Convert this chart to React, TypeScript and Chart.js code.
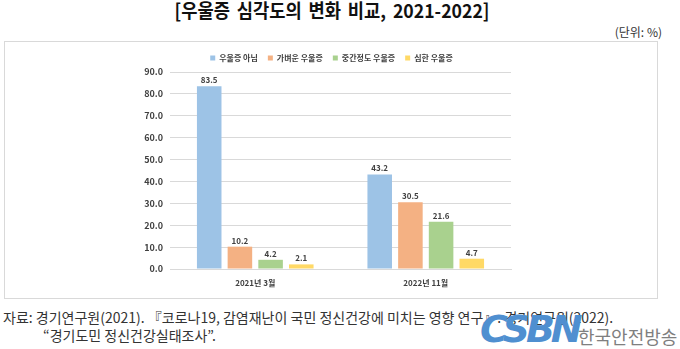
import React, { useEffect, useRef } from "react";
import { Chart, registerables } from "chart.js";

Chart.register(...registerables);

const categories = ["2021년 3월", "2022년 11월"];
const seriesNames = ["우울증 아님", "가벼운 우울증", "중간정도 우울증", "심한 우울증"];
const notDepressed = [83.5, 43.2];
const mild = [10.2, 30.5];
const moderate = [4.2, 21.6];
const severe = [2.1, 4.7];
const seriesColors = ["#9DC3E6", "#F4B183", "#A9D18E", "#FFD966"];
const yMin = 0;
const yMax = 90;
const yStep = 10;

const FONT = "'Noto Sans CJK KR', 'Noto Sans', sans-serif";

const valueLabels = {
  id: "valueLabels",
  afterDatasetsDraw(chart: any) {
    const ctx = chart.ctx;
    ctx.save();
    ctx.font = `bold 8px ${FONT}`;
    ctx.fillStyle = "#404040";
    ctx.textAlign = "center";
    ctx.textBaseline = "bottom";
    chart.data.datasets.forEach((ds: any, i: number) => {
      const meta = chart.getDatasetMeta(i);
      meta.data.forEach((el: any, j: number) => {
        const v = ds.data[j] as number;
        ctx.fillText(v.toFixed(1), el.x, el.y - 2);
      });
    });
    ctx.restore();
  },
};

const legendShift = {
  id: "legendShift",
  afterLayout(chart: any) {
    const lg = chart.legend;
    if (lg) {
      lg.left += 11;
      lg.right += 11;
    }
  },
};

function ChartBox() {
  const ref = useRef<HTMLCanvasElement | null>(null);
  useEffect(() => {
    if (!ref.current) return;
    const values = [notDepressed, mild, moderate, severe];
    const chart = new Chart(ref.current, {
      type: "bar",
      data: {
        labels: categories,
        datasets: seriesNames.map((name, i) => ({
          label: name,
          data: values[i],
          backgroundColor: seriesColors[i],
          borderWidth: 0,
          categoryPercentage: 0.72,
          barPercentage: 0.8,
        })),
      },
      options: {
        animation: false,
        responsive: false,
        maintainAspectRatio: false,
        devicePixelRatio: 1,
        layout: { padding: { left: 125, right: 146, top: 2, bottom: 0 } },
        plugins: {
          legend: {
            position: "top",
            labels: {
              boxWidth: 5,
              boxHeight: 5,
              padding: 10,
              color: "#404040",
              font: { family: FONT, size: 8, weight: "bold" },
            },
          },
          tooltip: { enabled: false },
        },
        scales: {
          x: {
            grid: { display: false, drawTicks: false },
            border: { display: true, color: "#D9D9D9" },
            ticks: {
              padding: 9,
              color: "#404040",
              font: { family: FONT, size: 8, weight: "bold" },
            },
            afterFit: (s: any) => {
              s.height = 29;
            },
          },
          y: {
            min: yMin,
            max: yMax,
            grid: { color: "#D9D9D9", drawTicks: false },
            border: { display: false },
            ticks: {
              stepSize: yStep,
              padding: 7,
              color: "#404040",
              font: { family: FONT, size: 9, weight: "bold" },
              callback: (v: any) => Number(v).toFixed(1),
            },
            afterFit: (s: any) => {
              s.width = 40;
            },
          },
        },
      },
      plugins: [valueLabels, legendShift],
    } as any);
    return () => chart.destroy();
  }, []);
  return <canvas ref={ref} width={652} height={256} style={{ display: "block", width: 652, height: 256 }} />;
}

export default function App() {
  return (
    <div
      style={{
        position: "fixed",
        left: 0,
        top: 0,
        width: 680,
        height: 349,
        background: "#fff",
        fontFamily: FONT,
        overflow: "hidden",
      }}
    >
      <div
        style={{
          position: "absolute",
          left: -8,
          width: 680,
          top: -2,
          height: 24,
          lineHeight: "24px",
          textAlign: "center",
          fontSize: 19,
          fontWeight: 700,
          color: "#111",
          wordSpacing: 3,
          transform: "scaleX(0.93)",
        }}
      >
        [우울증 심각도의 변화 비교, 2021-2022]
      </div>
      <div
        style={{
          position: "absolute",
          right: 18,
          top: 24,
          lineHeight: "16px",
          fontSize: 12,
          color: "#333",
        }}
      >
        (단위: %)
      </div>
      <div
        style={{
          position: "absolute",
          left: 4,
          top: 41,
          width: 652,
          height: 256,
          border: "1px solid #D9D9D9",
        }}
      >
        <ChartBox />
      </div>
      <div
        style={{
          position: "absolute",
          left: 3,
          top: 308,
          lineHeight: "18px",
          fontSize: 14,
          color: "#333",
          whiteSpace: "nowrap",
        }}
      >
        자료: 경기연구원(2021). 『코로나19, 감염재난이 국민 정신건강에 미치는 영향 연구』. 경기연구원(2022).
      </div>
      <div
        style={{
          position: "absolute",
          left: 43,
          top: 326,
          lineHeight: "18px",
          fontSize: 14,
          color: "#333",
          whiteSpace: "nowrap",
        }}
      >
        “경기도민 정신건강실태조사”.
      </div>
      <div
        style={{
          position: "absolute",
          left: 480,
          top: 307,
          lineHeight: "44px",
          fontSize: 38,
          fontWeight: 900,
          fontStyle: "italic",
          color: "#4F8FD0",
          letterSpacing: -4,
          fontFamily: "'DejaVu Sans', sans-serif",
        }}
      >
        CSBN
      </div>
      <div
        style={{
          position: "absolute",
          left: 578,
          top: 325,
          lineHeight: "22px",
          fontSize: 18,
          color: "#7F7F7F",
          whiteSpace: "nowrap",
        }}
      >
        한국안전방송
      </div>
    </div>
  );
}
